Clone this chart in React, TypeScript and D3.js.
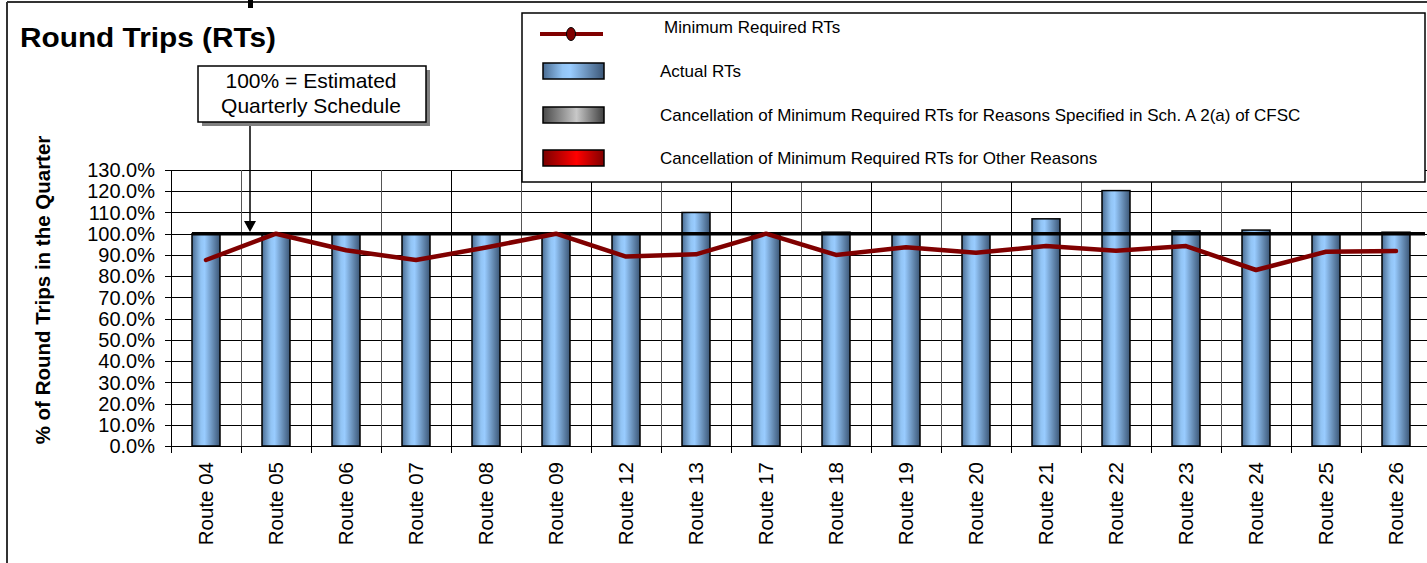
import * as d3 from 'd3'

const W = 1427
const H = 563

const routes = [
  'Route 04', 'Route 05', 'Route 06', 'Route 07', 'Route 08', 'Route 09',
  'Route 12', 'Route 13', 'Route 17', 'Route 18', 'Route 19', 'Route 20',
  'Route 21', 'Route 22', 'Route 23', 'Route 24', 'Route 25', 'Route 26',
]

// % of scheduled round trips
const actualRTs = [100, 100, 100, 100, 100, 100, 100, 110, 100, 100.7, 100, 100, 107, 120.3, 101.3, 101.7, 100, 100.7]
const cancelSchA = [0, 0, 0, 0, 0, 0, 0, 0, 0, 0, 0, 0, 0, 0, 0, 0, 0, 0]
const cancelOther = [0, 0, 0, 0, 0, 0, 0, 0, 0, 0, 0, 0, 0, 0, 0, 0, 0, 0]
const minRequired = [87.6, 100, 92.2, 87.6, 93.5, 100, 89.2, 90.3, 100, 90, 93.6, 91, 94.2, 92, 94.2, 82.9, 91.5, 91.8]

const yTicks = [0, 10, 20, 30, 40, 50, 60, 70, 80, 90, 100, 110, 120, 130]

const legendItems = [
  { label: 'Minimum Required RTs', kind: 'line' },
  { label: 'Actual RTs', kind: 'blue' },
  { label: 'Cancellation of Minimum Required RTs for Reasons Specified in Sch. A 2(a) of CFSC', kind: 'gray' },
  { label: 'Cancellation of Minimum Required RTs for Other Reasons', kind: 'red' },
]

const FONT = '"Liberation Sans", Arial, sans-serif'
const LINE_RED = '#800000'

const plot = { left: 171, top: 170, bottom: 446, right: 1431 }

export default function App() {
  const x = d3.scaleBand<string>().domain(routes).range([plot.left, plot.right]).padding(0)
  const bw = x.bandwidth()
  const y = d3.scaleLinear().domain([0, 130]).range([plot.bottom, plot.top])

  const stacked = routes.map((r, i) => {
    const a = actualRTs[i]
    const b = a + cancelSchA[i]
    const c = b + cancelOther[i]
    return { r, segs: [[0, a, 'gBlue'], [a, b, 'gGray'], [b, c, 'gRed']] as [number, number, string][] }
  })

  const line = d3
    .line<number>()
    .x((_, i) => (x(routes[i]) as number) + bw / 2)
    .y((d) => y(d))

  const boundaries = routes.map((r) => x(r) as number).concat([plot.right])

  const legendY = [34, 71, 115, 158]

  return (
    <svg width={W} height={H} style={{ position: 'absolute', left: 0, top: 0, background: '#fff' }}>
      <defs>
        <linearGradient id="gBlue" x1="0" x2="1" y1="0" y2="0">
          <stop offset="0" stopColor="#4a6c92" />
          <stop offset="0.32" stopColor="#92c4f4" />
          <stop offset="0.45" stopColor="#99ccff" />
          <stop offset="1" stopColor="#3b5676" />
        </linearGradient>
        <linearGradient id="gGray" x1="0" x2="1" y1="0" y2="0">
          <stop offset="0" stopColor="#4a4a4a" />
          <stop offset="0.55" stopColor="#c8c8c8" />
          <stop offset="1" stopColor="#404040" />
        </linearGradient>
        <linearGradient id="gRed" x1="0" x2="1" y1="0" y2="0">
          <stop offset="0" stopColor="#7a0000" />
          <stop offset="0.55" stopColor="#ff0000" />
          <stop offset="1" stopColor="#800000" />
        </linearGradient>
      </defs>

      <rect x={0} y={0} width={W} height={H} fill="#fff" />
      {/* outer frame */}
      <line x1={7} x2={W} y1={2} y2={2} stroke="#333" strokeWidth={2} />
      <line x1={7} x2={7} y1={2} y2={H} stroke="#333" strokeWidth={2} />
      <rect x={248} y={0} width={5} height={8} fill="#000" />

      <text x={20} y={47} fontFamily={FONT} fontWeight="bold" fontSize={27} textLength={256} lengthAdjust="spacingAndGlyphs">
        Round Trips (RTs)
      </text>

      {/* grid */}
      <g stroke="#000" strokeWidth={1} shapeRendering="crispEdges">
        {yTicks.map((t) => (
          <line key={t} x1={plot.left} x2={W} y1={Math.round(y(t)) + 0.5} y2={Math.round(y(t)) + 0.5} />
        ))}
        {boundaries.map((b, i) => (
          <line key={i} x1={Math.round(b) + 0.5} x2={Math.round(b) + 0.5} y1={plot.top} y2={plot.bottom} stroke={i % 2 ? '#555' : '#000'} />
        ))}
      </g>

      {/* axes */}
      <g stroke="#000" strokeWidth={1} shapeRendering="crispEdges">
        <line x1={plot.left + 0.5} x2={plot.left + 0.5} y1={plot.top} y2={plot.bottom} />
        <line x1={plot.left} x2={W} y1={plot.bottom + 0.5} y2={plot.bottom + 0.5} />
        {yTicks.map((t) => (
          <line key={t} x1={plot.left - 6} x2={plot.left} y1={Math.round(y(t)) + 0.5} y2={Math.round(y(t)) + 0.5} />
        ))}
        {boundaries.map((b, i) => (
          <line key={i} x1={Math.round(b) + 0.5} x2={Math.round(b) + 0.5} y1={plot.bottom} y2={plot.bottom + 7} />
        ))}
      </g>

      {yTicks.map((t) => (
        <text key={t} x={155} y={y(t)} dy="0.36em" textAnchor="end" fontFamily={FONT} fontSize={20}>
          {t.toFixed(1)}%
        </text>
      ))}

      {routes.map((r) => (
        <text
          key={r}
          transform={`translate(${(x(r) as number) + bw / 2},462) rotate(-90)`}
          dy="0.36em"
          textAnchor="end"
          fontFamily={FONT}
          fontSize={20.5}
        >
          {r}
        </text>
      ))}

      <text transform="translate(50,290) rotate(-90)" textAnchor="middle" fontFamily={FONT} fontWeight="bold" fontSize={20.5}>
        % of Round Trips in the Quarter
      </text>

      {/* bars */}
      {stacked.map((s) =>
        s.segs.map(([a, b, g], k) =>
          b > a ? (
            <rect
              key={s.r + k}
              x={(x(s.r) as number) + bw * 0.3}
              width={bw * 0.4}
              y={y(b)}
              height={y(a) - y(b)}
              fill={`url(#${g})`}
              stroke="#000"
              strokeWidth={1.5}
            />
          ) : null
        )
      )}

      {/* 100% reference */}
      <line x1={(x(routes[0]) as number) + bw * 0.3} x2={1425} y1={y(100)} y2={y(100)} stroke="#000" strokeWidth={3.5} />

      <path d={line(minRequired) ?? ''} fill="none" stroke={LINE_RED} strokeWidth={4.5} strokeLinejoin="round" strokeLinecap="round" />

      {/* annotation */}
      <line x1={250} x2={250} y1={122} y2={222} stroke="#000" strokeWidth={1.5} />
      <path d="M244,221 L256,221 L250,232 Z" fill="#000" />
      <rect x={202} y={70} width={228} height={56} fill="#808080" />
      <rect x={198} y={66} width={228} height={56} fill="#fff" stroke="#000" strokeWidth={1.5} />
      <text x={311} y={88} textAnchor="middle" fontFamily={FONT} fontSize={21}>
        100% = Estimated
      </text>
      <text x={311} y={113} textAnchor="middle" fontFamily={FONT} fontSize={21}>
        Quarterly Schedule
      </text>

      {/* legend */}
      <rect x={522} y={13} width={903} height={169} fill="#fff" stroke="#000" strokeWidth={1.5} />
      {legendItems.map((it, i) => {
        const cy = legendY[i]
        return (
          <g key={it.label}>
            {it.kind === 'line' ? (
              <g>
                <line x1={540} x2={603} y1={cy} y2={cy} stroke={LINE_RED} strokeWidth={4} />
                <ellipse cx={571} cy={cy} rx={4.5} ry={6.5} fill={LINE_RED} stroke="#000" strokeWidth={1} />
              </g>
            ) : (
              <rect
                x={543}
                y={cy - 8}
                width={61}
                height={16}
                fill={`url(#${it.kind === 'blue' ? 'gBlue' : it.kind === 'gray' ? 'gGray' : 'gRed'})`}
                stroke="#000"
                strokeWidth={1.5}
              />
            )}
            <text x={i === 0 ? 664 : 660} y={i === 0 ? 27 : cy} dy="0.35em" fontFamily={FONT} fontSize={17}>
              {it.label}
            </text>
          </g>
        )
      })}
    </svg>
  )
}
